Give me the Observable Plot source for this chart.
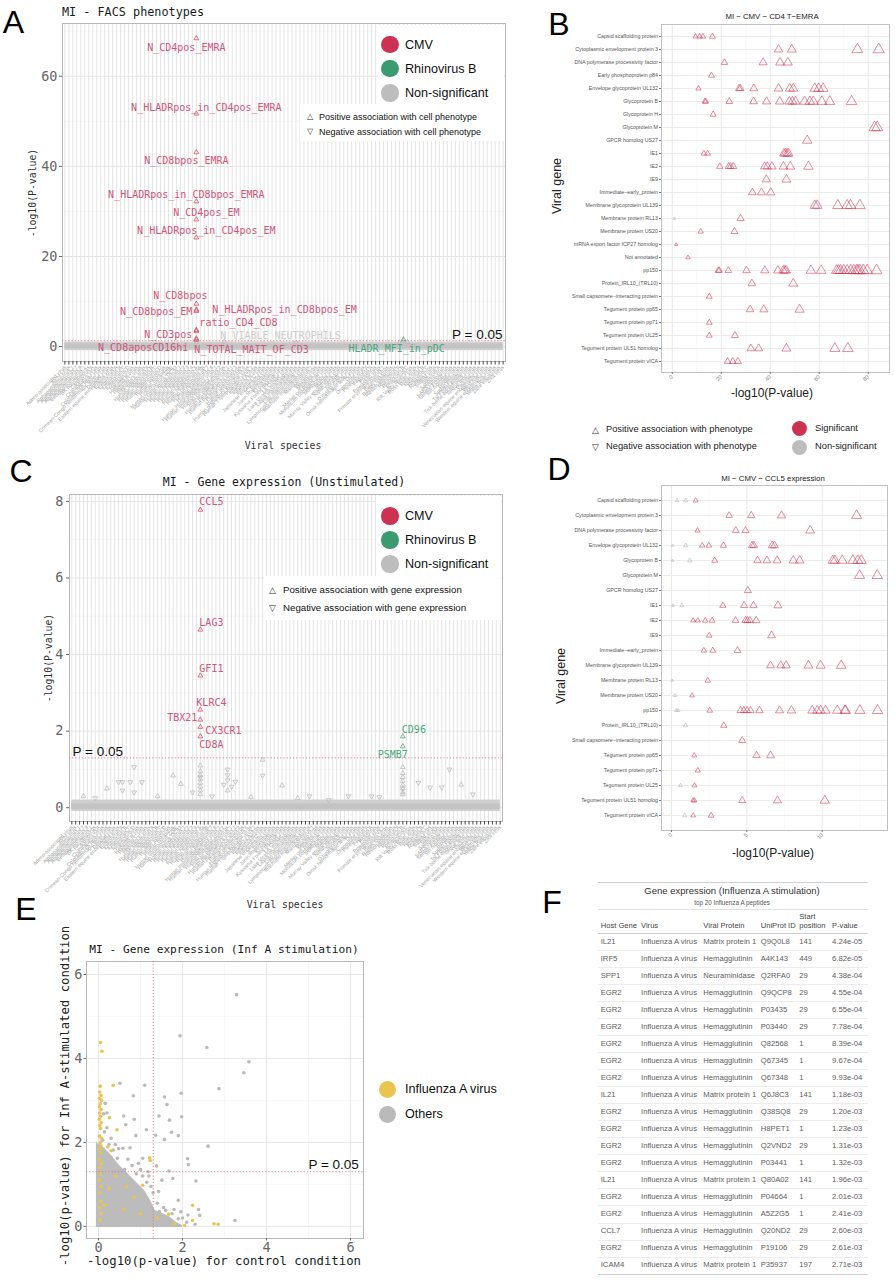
<!DOCTYPE html>
<html><head><meta charset="utf-8">
<script src="https://cdn.jsdelivr.net/npm/d3@7"></script>
<script src="https://cdn.jsdelivr.net/npm/@observablehq/plot@0.6"></script>
<style>
body{margin:0;background:#fff;}
#root{position:relative;width:895px;height:1280px;overflow:hidden;background:#fff;}
.abs{position:absolute;white-space:nowrap;line-height:1;}
</style></head><body><div id="root"></div>
<script>
// ---------------- DATA ----------------
const species = ["Adeno-associated virus","Aichi virus","Alphapapillomavirus 1","Alphapapillomavirus 7","Alphapapillomavirus 9","Betapapillomavirus 1","BK polyomavirus","Cardiovirus A","Chikungunya virus","Colorado tick fever virus","Crimean-Congo hemorrhagic fever virus","Dengue virus","Eastern equine encephalitis virus","Enterovirus A","Enterovirus B","Enterovirus C","Enterovirus D","Hantaan virus","Hepatitis B virus","Hepatitis C virus","Hepatitis E virus","Human adenovirus A","Human adenovirus B","Human adenovirus C","Human adenovirus D","Human astrovirus","Human bocavirus","Human coronavirus 229E","Human coronavirus OC43","Human herpesvirus 1","Human herpesvirus 2","Human herpesvirus 3","Human herpesvirus 4","Human herpesvirus 5","Human herpesvirus 6A","Human herpesvirus 6B","Human herpesvirus 7","Human herpesvirus 8","Human immunodeficiency virus 1","Human immunodeficiency virus 2","Human metapneumovirus","Human papillomavirus 1","Human parainfluenza virus 1","Human parainfluenza virus 3","Human parechovirus","Human polyomavirus 6","Human respiratory syncytial virus","Human T-lymphotropic virus 1","Influenza A virus","Influenza B virus","Influenza C virus","Japanese encephalitis virus","JC polyomavirus","Junin mammarenavirus","KI polyomavirus","Kyasanur Forest disease virus","La Crosse virus","Lake Victoria marburgvirus","Lassa mammarenavirus","Lujo mammarenavirus","Lymphocytic choriomeningitis virus","Machupo mammarenavirus","Mamastrovirus 1","Mayaro virus","Measles virus","Merkel cell polyomavirus","Molluscum contagiosum virus","Monkeypox virus","Mumps virus","Murray Valley encephalitis virus","Nipah henipavirus","Norwalk virus","O'nyong-nyong virus","Omsk hemorrhagic fever virus","Orf virus","Oropouche virus","Parechovirus A","Pegivirus A","Poliovirus","Powassan virus","Primate erythroparvovirus 1","Puumala virus","Rabies lyssavirus","Reston ebolavirus","Rhinovirus A","Rhinovirus B","Rhinovirus C","Rift Valley fever virus","Ross River virus","Rotavirus A","Rotavirus B","Rotavirus C","Rubella virus","Saffold virus","Salivirus A","Sapporo virus","SARS coronavirus","Semliki Forest virus","Sin Nombre virus","Sindbis virus","Sudan ebolavirus","Tai Forest ebolavirus","Tick-borne encephalitis virus","Torque teno virus","Vaccinia virus","Venezuelan equine encephalitis virus","West Nile virus","Western equine encephalitis virus","Yellow fever virus","Zaire ebolavirus","Zika virus"];
const CMV = "Human herpesvirus 5", RHB = "Rhinovirus B";

// Panel A: FACS phenotypes (labelled associations)
const facsLabels = ["N_CD4pos_EMRA","N_HLADRpos_in_CD4pos_EMRA","N_CD8bpos_EMRA","N_HLADRpos_in_CD8bpos_EMRA","N_CD4pos_EM","N_HLADRpos_in_CD4pos_EM","N_CD8bpos","N_CD8bpos_EM","N_HLADRpos_in_CD8bpos_EM","ratio_CD4_CD8","N_CD3pos","N_CD8aposCD16hi","N_TOTAL_MAIT_OF_CD3","N_VIABLE_NEUTROPHILS","HLADR_MFI_in_pDC"];
const facsValues = [68.4,51.7,43.1,32.2,28.2,24.2,9.5,8.2,7.9,3.7,3.4,1.5,1.8,1.0,1.6];
const facsGroups = ["CMV","CMV","CMV","CMV","CMV","CMV","CMV","CMV","CMV","CMV","CMV","CMV","CMV","Non-significant","Rhinovirus B"];
const facsSpecies = [CMV,CMV,CMV,CMV,CMV,CMV,CMV,CMV,CMV,CMV,CMV,CMV,CMV,CMV,RHB];
const facsNonSig = [[84,0.9,"up"],[85,1.2,"up"],[86,1.0,"up"],[40,1.1,"up"],[58,0.9,"down"]];
const facsBandLo = [-0.9,-0.5], facsBandHi = [1.0,0.6];

// Panel C: gene expression unstimulated
const geneLabels = ["CCL5","LAG3","GFI1","KLRC4","TBX21","CX3CR1","CD8A","CD96","PSMB7"];
const geneValues = [7.78,4.65,3.45,2.56,2.3,2.11,1.86,1.86,1.6];
const geneGroups = ["CMV","CMV","CMV","CMV","CMV","CMV","CMV","Rhinovirus B","Rhinovirus B"];
const geneSpecies = [CMV,CMV,CMV,CMV,CMV,CMV,CMV,RHB,RHB];
const geneNonSig = [[16,1.06,"down"],[9,0.5,"up"],[12,0.67,"down"],[13,0.67,"down"],[15,0.67,"down"],[13,0.45,"down"],[16,0.4,"down"],[18,0.67,"down"],[26,0.84,"up"],[28,0.62,"up"],[31,0.4,"down"],
 [33,1.1,"up"],[33,0.95,"up"],[33,0.85,"up"],[33,0.75,"up"],[33,0.65,"up"],[33,0.55,"up"],[33,0.45,"up"],[33,0.35,"up"],[33,0.8,"down"],
 [39,0.6,"down"],[40,0.72,"down"],[41,0.55,"down"],[42,0.68,"down"],[40,0.45,"up"],[40,1.0,"down"],[40,0.85,"down"],
 [49,1.25,"up"],[49,0.84,"down"],[54,0.58,"up"],[61,0.3,"down"],[71,0.3,"down"],[77,0.3,"down"],[79,0.28,"down"],
 [85,1.06,"up"],[85,0.9,"up"],[85,0.8,"up"],[85,0.7,"up"],[85,0.6,"up"],[85,0.5,"up"],[85,0.4,"up"],[85,0.35,"up"],[85,0.5,"down"],
 [89,0.65,"down"],[92,0.53,"down"],[95,0.53,"down"],[97,1.0,"down"],[103,0.35,"down"],[100,0.6,"up"],
 [3,0.3,"up"],[6,0.25,"down"],[22,0.3,"up"],[36,0.3,"down"],[46,0.28,"up"],[58,0.25,"up"],[66,0.2,"down"]];
const geneBandLo = [-0.1,-0.05], geneBandHi = [0.2,0.1];

// Panel B: CMV - CD4 T-EMRA
const genesB = ["Capsid scaffolding protein","Cytoplasmic envelopment protein 3","DNA polymerase processivity factor","Early phosphoprotein p84","Envelope glycoprotein UL132","Glycoprotein B","Glycoprotein H","Glycoprotein M","GPCR homolog US27","IE1","IE2","IE9","Immediate\u2212early_protein","Membrane glycoprotein UL139","Membrane protein RL13","Membrane protein US20","mRNA export factor ICP27 homolog","Not annotated","pp150","Protein_IRL10_(TRL10)","Small capsomere\u2212interacting protein","Tegument protein pp65","Tegument protein pp71","Tegument protein UL25","Tegument protein UL51 homolog","Tegument protein vICA"];
const valuesB = [
 [9.5,11.2,12.5,16.4],
 [43.4,48.8,75.6,84.3],
 [21.3,37.1,44,47.2],
 [16],
 [10.7,27.3,27.8,33.3,43.4,48,49.4,58.2,59.8,61.6],
 [13.3,13.7,23.3,33.2,38.5,43.9,47.8,49.1,50.3,54,56.2,57.6,61.1,64.3,73.2],
 [16.7],
 [82.6,83.7],
 [55.1],
 [12.9,14.4,45.6,46.2,46.9,47.5],
 [19.4,23,23.8,24.9,37.7,38.8,40.7,45.4,48.2,55.6],
 [38.4,46.6],
 [32.7,36.4,40.2],
 [58.2,59.2,67.6,71.4,72.8,76.6],
 [0.8,27.9],
 [11.6,25.4],
 [1.6],
 [6.4],
 [18.8,19.2,22.9,30.3,37.8,43.1,45.3,46,46.5,56.6,60.8,67.1,67.9,68.7,70,71.4,72.8,74.1,75.2,75.8,76.6,78,79.6,83.4],
 [32.5,49.4],
 [15.1],
 [31.8,37.4,52],
 [15.1],
 [15.1,25.6],
 [32.1,35.3,46.6,66.4,71.7],
 [22.6,24.7,26.8]];
const ticksB = [0,20,40,60,80];

// Panel D: CMV - CCL5 expression
const genesD = ["Capsid scaffolding protein","Cytoplasmic envelopment protein 3","DNA polymerase processivity factor","Envelope glycoprotein UL132","Glycoprotein B","Glycoprotein M","GPCR homolog US27","IE1","IE2","IE9","Immediate\u2212early_protein","Membrane glycoprotein UL139","Membrane protein RL13","Membrane protein US20","pp150","Protein_IRL10_(TRL10)","Small capsomere\u2212interacting protein","Tegument protein pp65","Tegument protein pp71","Tegument protein UL25","Tegument protein UL51 homolog","Tegument protein vICA"];
const valuesD = [
 [0.38,0.95,1.61],
 [3.83,5.29,7.3,12.28],
 [1.73,4.27,4.91,9.2],
 [0.07,0.95,2.04,2.48,3.45,5.35,5.46,6.68,6.83],
 [0.07,1.22,2.87,5.71,6.33,7.01,8.08,8.51,10.7,10.84,11.33,12.03,12.36,12.59],
 [12.48,13.65],
 [5.07],
 [0.11,0.69,3.41,4.82,5.44,7.06],
 [1.44,1.75,2.24,2.7,4.25,4.91,5.04,5.2,5.62],
 [2.5,6.64],
 [2.15,2.74,4.38],
 [6.57,7.25,7.61,9.09,9.89,11.26],
 [0.05,2.41],
 [0.24,1.37],
 [0.31,0.44,2.54,4.58,4.8,5.02,5.24,5.84,7.17,7.96,9.34,9.67,9.89,10.22,11.0,11.5,11.55,12.5,13.67],
 [0.93,3.47],
 [4.69],
 [1.51,5.64,6.57],
 [1.75],
 [0.6,1.53],
 [1.44,1.53,4.69,7.03,10.17],
 [0.88,1.44,2.63]];
const ticksD = [0,5,10];

// Panel E: Inf A stimulation scatter
const cloudX =   [-0.05,0.1,0.3,0.5,0.7,0.9,1.1,1.25,1.35,1.5,1.7,1.85,2.0];
const cloudTop = [2.0,1.9,1.7,1.45,1.25,1.05,0.85,0.6,0.38,0.32,0.22,0.1,0.02];
const othersE = [[3.29,5.52],[1.94,4.54],[2.58,4.26],[3.58,3.92],[3.46,3.66],[2.87,3.28],[0.51,3.41],[1.10,3.36],[1.97,3.17],[0.83,3.11],[1.57,3.08],[1.63,2.90],[0.16,2.93],[0.6,2.63],[0.85,2.55],[1.98,2.61],[1.44,2.63],[1.69,2.53],[0.65,2.42],[1.14,2.30],[1.74,2.24],[1.36,2.17],[1.9,2.16],[1.57,2.07],[0.89,2.16],[2.61,1.91],[2.12,1.61],[2.14,1.47],[2.32,1.08],[1.68,1.32],[1.77,1.14],[1.51,1.10],[1.38,1.44],[1.43,0.83],[1.9,0.62],[2.38,0.40],[2.41,0.26],[3.25,0.14],[1.96,0.35],[2.13,0.27],[2.3,0.05],
 [0.1,2.05],[0.14,2.25],[0.2,2.35],[0.12,2.68],[0.2,2.7],[0.25,1.95],[0.35,1.82],[0.48,1.85],[0.58,1.86],[0.75,1.87],[0.45,1.62],[0.7,1.6],[0.8,1.45],[0.95,1.5],[1.05,1.62],[0.62,1.35],[1.05,1.2],[1.15,1.05],[0.9,1.25],[1.25,0.95],[1.3,0.8],[1.18,1.3],[1.4,0.55],[1.6,0.38],[1.75,0.3],[1.9,0.18],[2.1,0.1],[1.55,0.45],[1.45,0.35],[1.0,1.35],[0.3,2.1],[0.4,1.95],[1.2,1.2],[1.7,0.12],[2.0,0.2],[1.8,0.4]];
const influenzaE = [[0.05,4.38],[0.08,4.17],[0.04,3.34],[0.35,3.36],[0.03,3.2],[0.06,3.12],[0.02,3.05],[0.07,3.0],[0.04,2.92],[0.02,2.85],[0.06,2.78],[0.03,2.7],[0.05,2.62],[0.02,2.55],[0.06,2.47],[0.03,2.4],[0.05,2.33],[0.02,2.15],[0.07,2.1],[0.04,2.0],[0.06,1.92],[0.03,1.85],[0.05,1.75],[0.02,1.6],[0.06,1.5],[0.03,1.4],[0.05,1.25],[0.02,1.1],[0.06,0.95],[0.03,0.8],[0.05,0.6],[0.02,0.45],[0.07,0.3],[0.04,0.15],
 [0.26,2.59],[0.44,2.30],[0.22,1.89],[0.3,1.8],[1.22,1.63],[1.23,1.57],[1.05,0.98],[0.67,0.95],[0.85,0.7],[0.4,1.2],[0.25,0.9],[0.6,0.4],[1.0,0.3],[1.4,0.2],[1.67,0.29],[2.24,0.50],[2.24,0.14],[2.05,0.02],[2.75,0.06],[2.85,0.05],[1.8,0.05],[0.15,0.5]];
const ticksE = [0,2,4,6];

// Panel F: table
const hostGene = ["IL21","IRF5","SPP1","EGR2","EGR2","EGR2","EGR2","EGR2","EGR2","IL21","EGR2","EGR2","EGR2","EGR2","IL21","EGR2","EGR2","CCL7","EGR2","ICAM4"];
const virusF = Array(20).fill("Influenza A virus");
const viralProtein = ["Matrix protein 1","Hemagglutinin","Neuraminidase","Hemagglutinin","Hemagglutinin","Hemagglutinin","Hemagglutinin","Hemagglutinin","Hemagglutinin","Matrix protein 1","Hemagglutinin","Hemagglutinin","Hemagglutinin","Hemagglutinin","Matrix protein 1","Hemagglutinin","Hemagglutinin","Hemagglutinin","Hemagglutinin","Matrix protein 1"];
const uniprot = ["Q9Q0L8","A4K143","Q2RFA0","Q9QCP8","P03435","P03440","Q82568","Q67345","Q67348","Q6J8C3","Q38SQ8","H8PET1","Q2VND2","P03441","Q80A02","P04664","A5Z2G5","Q20ND2","P19106","P35937"];
const startPos = [141,449,29,29,29,29,1,1,1,141,29,1,29,1,141,1,1,29,29,197];
const pValue = ["4.24e-05","6.82e-05","4.38e-04","4.55e-04","6.55e-04","7.78e-04","8.39e-04","9.67e-04","9.93e-04","1.18e-03","1.20e-03","1.23e-03","1.31e-03","1.32e-03","1.96e-03","2.01e-03","2.41e-03","2.60e-03","2.61e-03","2.71e-03"];

// ---------------- STYLE ----------------
const MONO = '"DejaVu Sans Mono", monospace';
const SANS = '"Liberation Sans", Arial, sans-serif';
const RED = "#cd3252", GREEN = "#3b9b6f", GREY = "#bdbdbd", YELLOW = "#e9c450";
const LRED = "#d0567a", LGREEN = "#4aa67e", LGREY = "#cdcdcd";
const groupColor = {"CMV": RED, "Rhinovirus B": GREEN, "Non-significant": GREY};
const labelColor = {"CMV": LRED, "Rhinovirus B": LGREEN, "Non-significant": LGREY};
const root = document.getElementById("root");

const triDown = {draw(ctx, size) {
  const s3 = Math.sqrt(3), y = -Math.sqrt(size / (s3 * 3));
  ctx.moveTo(0, -y * 2); ctx.lineTo(-s3 * y, y); ctx.lineTo(s3 * y, y); ctx.closePath();
}};

function addSvg(svg, left, top) {
  svg.style.position = "absolute"; svg.style.left = left + "px"; svg.style.top = top + "px";
  root.appendChild(svg);
}
function T(text, x, y, o = {}) {
  const d = document.createElement("div");
  d.className = "abs"; d.textContent = text;
  d.style.fontSize = (o.size || 10) + "px";
  d.style.color = o.color || "#222";
  d.style.fontFamily = o.mono ? MONO : SANS;
  d.style.left = x + "px"; d.style.top = y + "px";
  const ax = o.anchor === "start" ? "0" : o.anchor === "end" ? "-100%" : "-50%";
  d.style.transform = `translate(${ax}, -50%)` + (o.rotate ? ` rotate(${o.rotate}deg)` : "");
  root.appendChild(d); return d;
}
function Circ(x, y, r, color) {
  const d = document.createElement("div");
  d.className = "abs";
  Object.assign(d.style, {left: (x - r) + "px", top: (y - r) + "px", width: 2 * r + "px", height: 2 * r + "px", borderRadius: "50%", background: color});
  root.appendChild(d);
}
function Box(x, y, w, h) {
  const d = document.createElement("div");
  d.className = "abs";
  Object.assign(d.style, {left: x + "px", top: y + "px", width: w + "px", height: h + "px", background: "#fff"});
  root.appendChild(d);
}

// ---------- Manhattan panel builder ----------
function manhattan(cfg) {
  const ns = cfg.nonSig.map(([i, v, dir]) => ({sp: species[i], v, dir}));
  const lab = cfg.labels.map((l, i) => ({label: l, v: cfg.values[i], sp: cfg.spp[i], g: cfg.groups[i]}));
  const bands = cfg.bandLo.map((lo, i) => ({lo, hi: cfg.bandHi[i]}));
  const marks = [
    Plot.gridY(cfg.minor, {stroke: "#f1f1f1", strokeOpacity: 1, strokeWidth: 0.6}),
    Plot.gridY(cfg.major, {stroke: "#e6e6e6", strokeOpacity: 1}),
    Plot.ruleX(species, {stroke: "#e1e1e1", strokeWidth: 0.9}),
    Plot.frame({stroke: "#b8b8b8"}),
    Plot.axisY(cfg.major, {tickSize: 3, tickPadding: cfg.tickPad, fontSize: 13.5, fill: "#666", stroke: "#666", label: null, fontFamily: MONO}),
    Plot.axisX(species, {tickRotate: -45, tickSize: 3.5, tickPadding: 1.5, fontSize: 5.2, fill: "#a3a3a3", stroke: "#444", label: null, fontFamily: SANS}),
    Plot.rect(bands.slice(0, 1), {x1: () => species[0], x2: () => species[species.length - 1], y1: "lo", y2: "hi", fill: "#d0d0d0"}),
    Plot.rect(bands.slice(1), {x1: () => species[0], x2: () => species[species.length - 1], y1: "lo", y2: "hi", fill: "#c3c3c3"}),
    Plot.dot(ns.filter(d => d.dir === "up"), {x: "sp", y: "v", symbol: "triangle", r: 1.8, stroke: GREY, fill: "none", strokeWidth: 0.8}),
    Plot.dot(ns.filter(d => d.dir === "down"), {x: "sp", y: "v", symbol: triDown, r: 1.8, stroke: GREY, fill: "none", strokeWidth: 0.8}),
    Plot.ruleY([1.301], {stroke: "#e07a8a", strokeDasharray: "1.2,2", strokeWidth: 1})
  ];
  for (const g of ["Non-significant", "CMV", "Rhinovirus B"]) {
    marks.push(Plot.dot(lab.filter(d => d.g === g), {x: "sp", y: "v", symbol: "triangle", r: 1.8, stroke: groupColor[g], strokeOpacity: 0.85, fill: "none", strokeWidth: 0.8}));
  }
  lab.forEach(d => {
    const [dx, dy, anchor] = cfg.offsets[d.label];
    marks.push(Plot.text([d], {x: "sp", y: "v", text: "label", dx, dy, textAnchor: anchor, fill: labelColor[d.g], fontSize: 10, fontFamily: MONO}));
  });
  marks.push(Plot.text([1.301], {y: d => d, text: () => "P = 0.05", frameAnchor: cfg.pAnchor, textAnchor: cfg.pAnchor === "right" ? "end" : "start", dx: cfg.pDx, dy: cfg.pDy, fontSize: 13.5, fill: "#111", fontFamily: SANS}));
  return Plot.plot({
    width: cfg.w, height: cfg.h, marginLeft: cfg.ml, marginRight: cfg.mr, marginTop: cfg.mt, marginBottom: cfg.mb,
    style: {background: "transparent", fontFamily: MONO, overflow: "visible"},
    x: {type: "point", domain: species, padding: 0.6, axis: null},
    y: {domain: cfg.ydomain, axis: null},
    marks
  });
}

// Panel A
addSvg(manhattan({
  labels: facsLabels, values: facsValues, groups: facsGroups, spp: facsSpecies, nonSig: facsNonSig,
  bandLo: facsBandLo, bandHi: facsBandHi,
  major: [0, 20, 40, 60], minor: [10, 30, 50, 70], ydomain: [-3.3, 71.7], tickPad: 2,
  w: 510, h: 450, ml: 62, mr: 5, mt: 23, mb: 89, pAnchor: "right", pDx: -3, pDy: -6,
  offsets: {
    "N_CD4pos_EMRA": [-10, 9, "middle"], "N_HLADRpos_in_CD4pos_EMRA": [10, -6, "middle"],
    "N_CD8bpos_EMRA": [-10, 8, "middle"], "N_HLADRpos_in_CD8bpos_EMRA": [-10, -7, "middle"],
    "N_CD4pos_EM": [10, -7, "middle"], "N_HLADRpos_in_CD4pos_EM": [10, -7, "middle"],
    "N_CD8bpos": [-16, -8, "middle"], "N_CD8bpos_EM": [-4, 2, "end"],
    "N_HLADRpos_in_CD8bpos_EM": [16, -1, "start"], "ratio_CD4_CD8": [3, -7, "start"],
    "N_CD3pos": [-4, 3, "end"], "N_CD8aposCD16hi": [-8, 8, "end"],
    "N_TOTAL_MAIT_OF_CD3": [-2, 11, "start"], "N_VIABLE_NEUTROPHILS": [24, -6, "start"],
    "HLADR_MFI_in_pDC": [-55, 9, "start"]
  }
}), 0, 0);

// Panel C
addSvg(manhattan({
  labels: geneLabels, values: geneValues, groups: geneGroups, spp: geneSpecies, nonSig: geneNonSig,
  bandLo: geneBandLo, bandHi: geneBandHi,
  major: [0, 2, 4, 6, 8], minor: [1, 3, 5, 7], ydomain: [-0.36, 8.18], tickPad: 3,
  w: 510, h: 440, ml: 69, mr: 8, mt: 44, mb: 69, pAnchor: "left", pDx: 3, pDy: -6,
  offsets: {
    "CCL5": [-1, -8, "start"], "LAG3": [-1, -7, "start"], "GFI1": [-1, -7, "start"],
    "KLRC4": [-4, -7, "start"], "TBX21": [-3, -2, "end"], "CX3CR1": [5, 4, "start"],
    "CD8A": [-1, 8, "start"], "CD96": [-1, -7, "start"], "PSMB7": [-10, 8, "middle"]
  }
}), 0, 450);

// ---------- gene dot panels (B, D) ----------
function genePanel(genes, values, ticks, minor, xdomain, rdomain, rrange, dims) {
  const pts = genes.flatMap((g, i) => values[i].map(v => ({gene: g, v})));
  return Plot.plot({
    width: 395, height: 400, marginLeft: 161, marginRight: dims.mr, marginTop: dims.mt, marginBottom: dims.mb,
    style: {background: "transparent", fontFamily: SANS, overflow: "visible"},
    x: {domain: xdomain, axis: null},
    y: {type: "point", domain: genes, padding: 0.6, axis: null},
    r: {domain: rdomain, range: rrange},
    marks: [
      Plot.gridX(minor, {stroke: "#f3f3f3", strokeOpacity: 1, strokeWidth: 0.6}),
      Plot.gridX(ticks, {stroke: "#e9e9e9", strokeOpacity: 1}),
      Plot.gridY(genes, {stroke: "#ececec", strokeOpacity: 1}),
      Plot.frame({stroke: "#c2c2c2"}),
      Plot.axisY(genes, {tickSize: 2, tickPadding: 1.5, fontSize: 5.3, fill: "#555", stroke: "#777", label: null}),
      Plot.axisX(ticks, {tickSize: 2, tickPadding: 1.5, tickRotate: -45, fontSize: 5.5, fill: "#777", stroke: "#777", label: null}),
      Plot.dot(pts.filter(d => d.v < 1.3), {x: "v", y: "gene", r: "v", symbol: "triangle", stroke: "#b5b5b5", strokeOpacity: 0.6, fill: "none", strokeWidth: 1}),
      Plot.dot(pts.filter(d => d.v >= 1.3), {x: "v", y: "gene", r: "v", symbol: "triangle", stroke: RED, strokeOpacity: 0.55, fill: "none", strokeWidth: 1})
    ]
  });
}
addSvg(genePanel(genesB, valuesB, ticksB, [10, 30, 50, 70], [-4.4, 88.7], [0, 85], [0.7, 4.2], {mr: 6, mt: 24, mb: 28}), 500, 0);
addSvg(genePanel(genesD, valuesD, ticksD, [2.5, 7.5, 12.5], [-0.66, 14.33], [0, 14], [0.8, 3.9], {mr: 8, mt: 25, mb: 30}), 500, 460);

// ---------- Panel E ----------
const cloud = cloudX.map((x, i) => ({x, top: cloudTop[i]}));
const others = othersE.map(([x, y]) => ({x, y}));
const flu = influenzaE.map(([x, y]) => ({x, y}));
addSvg(Plot.plot({
  width: 370, height: 400, marginLeft: 86, marginRight: 7, marginTop: 81, marginBottom: 42,
  style: {background: "transparent", fontFamily: MONO, overflow: "visible"},
  x: {domain: [-0.286, 6.31], axis: null},
  y: {domain: [-0.29, 6.31], axis: null},
  marks: [
    Plot.gridX([1, 3, 5], {stroke: "#f2f2f2", strokeOpacity: 1, strokeWidth: 0.6}),
    Plot.gridY([1, 3, 5], {stroke: "#f2f2f2", strokeOpacity: 1, strokeWidth: 0.6}),
    Plot.gridX(ticksE, {stroke: "#e8e8e8", strokeOpacity: 1}),
    Plot.gridY(ticksE, {stroke: "#e8e8e8", strokeOpacity: 1}),
    Plot.frame({stroke: "#b8b8b8"}),
    Plot.axisX(ticksE, {tickSize: 2.5, tickPadding: 1, fontSize: 13.5, fill: "#666", stroke: "#666", label: null}),
    Plot.axisY(ticksE, {tickSize: 2.5, tickPadding: 1.5, fontSize: 13.5, fill: "#666", stroke: "#666", label: null}),
    Plot.areaY(cloud, {x: "x", y1: () => -0.03, y2: "top", fill: "#bcbcbc"}),
    Plot.dot(others, {x: "x", y: "y", r: 1.8, fill: "#bababa"}),
    Plot.dot(flu, {x: "x", y: "y", r: 1.8, fill: YELLOW}),
    Plot.ruleX([1.301], {stroke: "#e07a8a", strokeDasharray: "1.2,2"}),
    Plot.ruleY([1.301], {stroke: "#e07a8a", strokeDasharray: "1.2,2"}),
    Plot.text([1.301], {x: () => 6.2, y: d => d, text: () => "P = 0.05", textAnchor: "end", dy: -7, fontSize: 13.5, fill: "#111", fontFamily: SANS})
  ]
}), 0, 880);

// ---------- HTML annotations ----------
// white legend backgrounds (A, C)
Box(378, 25, 125.5, 79); Box(300, 104, 203.5, 37);
Box(376, 496, 125, 80); Box(264, 576, 237, 44);

// letters
T("A", 13.5, 21.5, {size: 32, color: "#000"});
T("B", 559, 23.5, {size: 32, color: "#000"});
T("C", 21, 471, {size: 32, color: "#000"});
T("D", 559, 469, {size: 32, color: "#000"});
T("E", 26, 909, {size: 32, color: "#000"});
T("F", 552, 902, {size: 32, color: "#000"});

// titles
T("MI - FACS phenotypes", 62, 12.5, {mono: true, size: 11.8, anchor: "start", color: "#1a1a1a"});
T("MI \u2212 CMV \u2212 CD4 T\u2212EMRA", 772, 17, {size: 7.8, color: "#222"});
T("MI - Gene expression (Unstimulated)", 284, 483, {mono: true, size: 11.5, color: "#1a1a1a"});
T("MI \u2212 CMV \u2212 CCL5 expression", 773, 479, {size: 7.8, color: "#222"});
T("MI - Gene expression (Inf A stimulation)", 224, 950, {mono: true, size: 11.2, color: "#1a1a1a"});

// axis titles
T("Viral species", 283, 446, {mono: true, size: 9.8, color: "#333"});
T("-log10(P-value)", 33, 193, {mono: true, size: 9.8, color: "#333", rotate: -90});
T("Viral species", 285, 905, {mono: true, size: 9.8, color: "#333"});
T("-log10(P-value)", 49, 658, {mono: true, size: 9.8, color: "#333", rotate: -90});
T("-log10(P-value)", 772, 393, {size: 12, color: "#222"});
T("Viral gene", 557, 186, {size: 12.5, color: "#222", rotate: -90});
T("-log10(P-value)", 773, 853, {size: 12, color: "#222"});
T("Viral gene", 561, 676, {size: 12.5, color: "#222", rotate: -90});
T("-log10(p-value) for control condition", 224, 1261, {mono: true, size: 12.3, color: "#222"});
T("-log10(p-value) for Inf A-stimulated condition", 65, 1096, {mono: true, size: 12.3, color: "#222", rotate: -90});

// legends A
[["CMV", RED, 44.5], ["Rhinovirus B", GREEN, 68.5], ["Non-significant", GREY, 93]].forEach(([t, c, y]) => {
  Circ(390, y, 8.6, c); T(t, 405, y, {size: 12.6, anchor: "start", color: "#111"});
});
T("\u25B3", 310, 116.5, {size: 8, color: "#333"});
T("Positive association with cell phenotype", 319, 116.5, {size: 9, anchor: "start", color: "#111"});
T("\u25BD", 310, 131.5, {size: 8, color: "#333"});
T("Negative association with cell phenotype", 319, 131.5, {size: 9, anchor: "start", color: "#111"});

// legends C
[["CMV", RED, 516], ["Rhinovirus B", GREEN, 540], ["Non-significant", GREY, 564]].forEach(([t, c, y]) => {
  Circ(390, y, 8.6, c); T(t, 405, y, {size: 12.6, anchor: "start", color: "#111"});
});
T("\u25B3", 272, 590, {size: 8.5, color: "#333"});
T("Positive association with gene expression", 283, 590, {size: 9.7, anchor: "start", color: "#111"});
T("\u25BD", 272, 608, {size: 8.5, color: "#333"});
T("Negative association with gene expression", 283, 608, {size: 9.7, anchor: "start", color: "#111"});

// legend B/D
T("\u25B3", 595, 430, {size: 8.5, color: "#333"});
T("Positive association with phenotype", 606, 430, {size: 9.3, anchor: "start", color: "#222"});
T("\u25BD", 595, 447, {size: 8.5, color: "#333"});
T("Negative association with phenotype", 606, 447, {size: 9.3, anchor: "start", color: "#222"});
Circ(799, 428.5, 7.5, RED); T("Significant", 815, 428.5, {size: 9.3, anchor: "start", color: "#222"});
Circ(799, 447.3, 7.5, GREY); T("Non-significant", 815, 447.3, {size: 9.3, anchor: "start", color: "#222"});

// legend E
Circ(387.7, 1089, 8.5, YELLOW); T("Influenza A virus", 405, 1089, {size: 12.6, anchor: "start", color: "#111"});
Circ(387.7, 1114, 8.5, "#bababa"); T("Others", 405, 1114, {size: 12.6, anchor: "start", color: "#111"});

// ---------- Panel F table ----------
(function table() {
  const L = 598, TOP = 882, W = 270;
  function hline(y, c) {
    const d = document.createElement("div"); d.className = "abs";
    Object.assign(d.style, {left: L + "px", top: y + "px", width: W + "px", height: "1px", background: c});
    root.appendChild(d);
  }
  hline(TOP, "#d0d0d0");
  T("Gene expression (Influenza A stimulation)", L + 134, TOP + 8.5, {size: 9.5, color: "#333"});
  T("top 20 Influenza A peptides", L + 134, TOP + 21, {size: 6.3, color: "#555"});
  hline(TOP + 27, "#e2e2e2");
  const colX = [2.7, 43, 105.3, 162.7, 201.3, 234];
  const heads = ["Host Gene", "Virus", "Viral Protein", "UniProt ID", "position", "P-value"];
  heads.forEach((h, j) => T(h, L + colX[j], TOP + 44, {size: 7.6, anchor: "start", color: "#444"}));
  T("Start", L + colX[4], TOP + 35, {size: 7.6, anchor: "start", color: "#444"});
  hline(TOP + 51, "#cfcfcf");
  const rowH = 17.03;
  for (let k = 0; k < hostGene.length; k++) {
    const yc = TOP + 51 + rowH * k + 8.7;
    const vals = [hostGene[k], virusF[k], viralProtein[k], uniprot[k], String(startPos[k]), pValue[k]];
    vals.forEach((v, j) => T(v, L + colX[j], yc, {size: 7.7, anchor: "start", color: "#5e5e5e"}));
    hline(TOP + 51 + rowH * (k + 1), k === hostGene.length - 1 ? "#cfcfcf" : "#ececec");
  }
})();
</script></body></html>
